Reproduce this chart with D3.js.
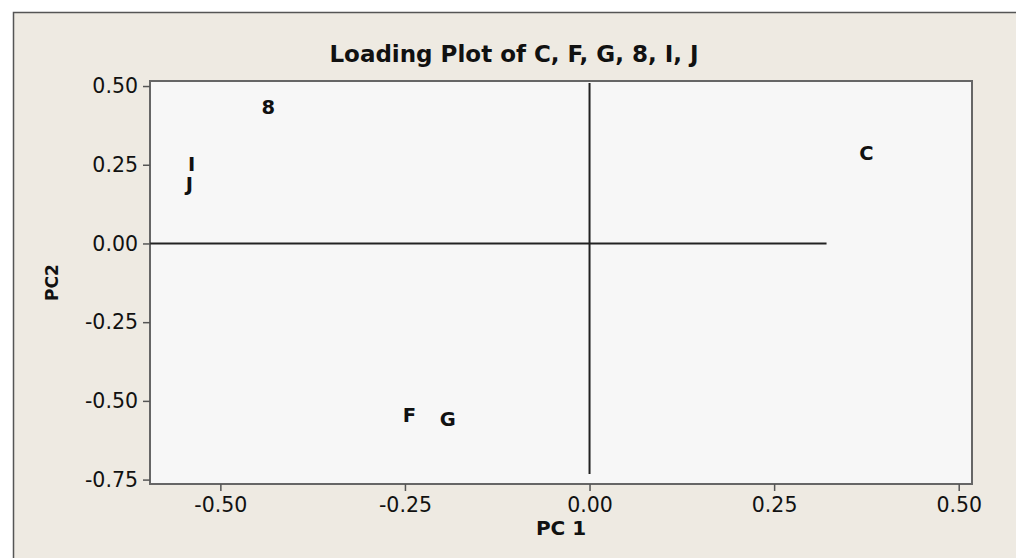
<!DOCTYPE html>
<html>
<head>
<meta charset="utf-8">
<script src="https://cdn.jsdelivr.net/npm/d3@7"></script>
<style>
  body { margin: 0; background: #fff; }
  text { font-family: "DejaVu Sans", Verdana, sans-serif; fill: #111; }
</style>
</head>
<body>
<figure id="plot" style="margin:0"></figure>
<script>
// loadings
const labels = ["C", "F", "G", "8", "I", "J"];
const pc1 = [0.375, -0.244, -0.192, -0.435, -0.539, -0.542];
const pc2 = [0.288, -0.544, -0.558, 0.433, 0.251, 0.189];

const xTicks = [-0.5, -0.25, 0, 0.25, 0.5];
const yTicks = [0.5, 0.25, 0, -0.25, -0.5, -0.75];

// reference lines through the origin
const hLine = [-0.595, 0.321];
const vLine = [0.51, -0.732];

const width = 1016, height = 558;
const plot = { left: 150, top: 81, right: 972, bottom: 484 };

const svg = d3.select("figure#plot")
  .append("svg")
  .attr("width", width)
  .attr("height", height);

// outer frame
svg.append("rect")
  .attr("x", 13.5).attr("y", 12.5)
  .attr("width", 1016).attr("height", 560)
  .attr("fill", "#eeeae2")
  .attr("stroke", "#555")
  .attr("stroke-width", 1.5);

const x = d3.scaleLinear()
  .domain([-0.5953, 0.518])
  .range([plot.left, plot.right]);

const y = d3.scaleLinear()
  .domain([-0.764, 0.516])
  .range([plot.bottom, plot.top]);

// plot area
svg.append("rect")
  .attr("x", plot.left).attr("y", plot.top)
  .attr("width", plot.right - plot.left)
  .attr("height", plot.bottom - plot.top)
  .attr("fill", "#f7f7f7")
  .attr("stroke", "#666")
  .attr("stroke-width", 2);

const loc = d3.formatLocale({ decimal: ".", thousands: ",", grouping: [3], currency: ["", ""], minus: "-" });
const fmt = loc.format(".2f");

// Draw the X-axis
const gx = svg.append("g")
  .attr("transform", "translate(0," + plot.bottom + ")")
  .call(d3.axisBottom(x).tickValues(xTicks).tickFormat(fmt).tickSize(7).tickSizeOuter(0).tickPadding(6));
gx.select(".domain").remove();
gx.selectAll("line").attr("stroke", "#555").attr("stroke-width", 1.5);
gx.selectAll("text").attr("font-size", 20.5).attr("fill", "#111")
  .attr("font-family", "DejaVu Sans");

// Draw the Y-axis
const gy = svg.append("g")
  .attr("transform", "translate(" + plot.left + ",0)")
  .call(d3.axisLeft(y).tickValues(yTicks).tickFormat(fmt).tickSize(7).tickSizeOuter(0).tickPadding(5));
gy.select(".domain").remove();
gy.selectAll("line").attr("stroke", "#555").attr("stroke-width", 1.5);
gy.selectAll("text").attr("font-size", 20.5).attr("fill", "#111")
  .attr("font-family", "DejaVu Sans");

// reference lines
svg.append("line")
  .attr("x1", x(hLine[0])).attr("x2", x(hLine[1]))
  .attr("y1", y(0)).attr("y2", y(0))
  .attr("stroke", "#222").attr("stroke-width", 2);
svg.append("line")
  .attr("x1", x(0)).attr("x2", x(0))
  .attr("y1", y(vLine[0])).attr("y2", y(vLine[1]))
  .attr("stroke", "#222").attr("stroke-width", 2);

// point labels
svg.selectAll("text.pt")
  .data(labels)
  .enter()
  .append("text")
  .attr("class", "pt")
  .attr("x", (d, i) => x(pc1[i]))
  .attr("y", (d, i) => y(pc2[i]))
  .attr("dy", "0.36em")
  .attr("text-anchor", "middle")
  .attr("font-size", 19.5)
  .attr("font-weight", "bold")
  .text(d => d);

// title and axis titles
svg.append("text")
  .attr("x", 514).attr("y", 62)
  .attr("text-anchor", "middle")
  .attr("font-size", 23)
  .attr("font-weight", "bold")
  .text("Loading Plot of C, F, G, 8, I, J");

svg.append("text")
  .attr("x", (plot.left + plot.right) / 2).attr("y", 535)
  .attr("text-anchor", "middle")
  .attr("font-size", 20)
  .attr("font-weight", "bold")
  .text("PC 1");

svg.append("text")
  .attr("transform", "translate(58," + (plot.top + plot.bottom) / 2 + ") rotate(-90)")
  .attr("text-anchor", "middle")
  .attr("font-size", 17)
  .attr("font-weight", "bold")
  .text("PC2");
</script>
</body>
</html>
